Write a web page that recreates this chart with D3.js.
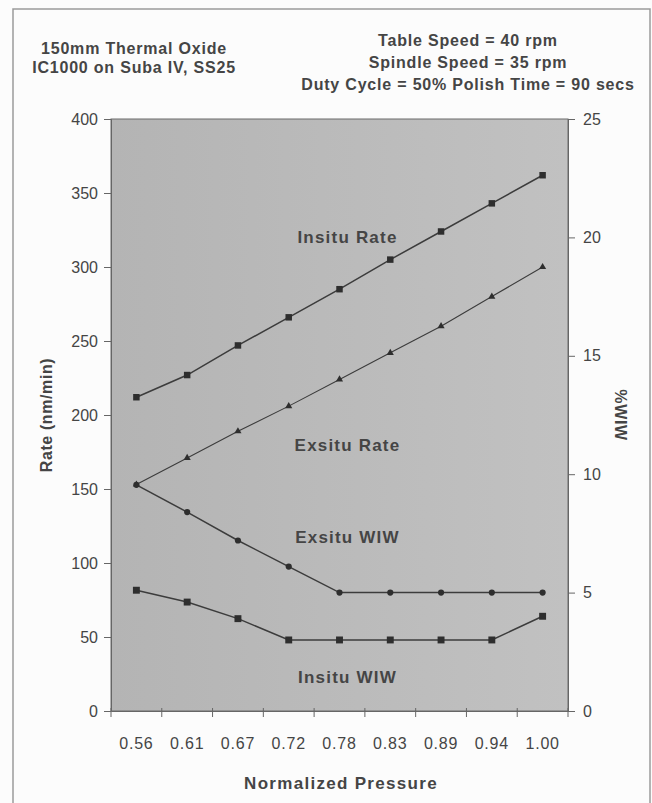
<!DOCTYPE html>
<html>
<head>
<meta charset="utf-8">
<script src="https://cdn.jsdelivr.net/npm/d3@7"></script>
<style>
  body { margin: 0; background: #fcfcfc; }
  svg text { font-family: "Liberation Sans", Arial, sans-serif; fill: #454545; }
</style>
</head>
<body>
<svg id="chart" width="652" height="803"></svg>
<script>
// pressure vs rate / WIW chart

var pressures = ['0.56', '0.61', '0.67', '0.72', '0.78', '0.83', '0.89', '0.94', '1.00'];

var insituRate = [212, 227, 247, 266, 285, 305, 324, 343, 362];
var exsituRate = [153, 171, 189, 206, 224, 242, 260, 280, 300];

var exsituWiw = [9.55, 8.4, 7.2, 6.1, 5.0, 5.0, 5.0, 5.0, 5.0];
var insituWiw = [5.1, 4.6, 3.9, 3.0, 3.0, 3.0, 3.0, 3.0, 4.0];

var rateTicks = [0, 50, 100, 150, 200, 250, 300, 350, 400];
var wiwTicks = [0, 5, 10, 15, 20, 25];

var leftNotes = ['150mm Thermal Oxide', 'IC1000 on Suba IV, SS25'];
var rightNotes = ['Table Speed = 40 rpm', 'Spindle Speed = 35 rpm', 'Duty Cycle = 50% Polish Time = 90 secs'];

var svg = d3.select('#chart');

var plot = {left: 111, right: 568, top: 119, bottom: 711};

var x = d3.scaleBand().domain(pressures).range([plot.left, plot.right]);
var yRate = d3.scaleLinear().domain([0, 400]).range([plot.bottom, plot.top]);
var yWiw = d3.scaleLinear().domain([0, 25]).range([plot.bottom, plot.top]);

function cx(d, i){ return x(pressures[i]) + x.bandwidth()/2; }

// outer frame of the scanned figure
svg.append('path')
  .attr('d', 'M13,810 L13,9 L650,9 L650,810')
  .attr('fill', 'none')
  .attr('stroke', '#9a9a9a')
  .attr('stroke-width', 1.5);

// header notes
svg.selectAll('.lnote').data(leftNotes).enter().append('text')
  .attr('class', 'lnote')
  .attr('x', 134)
  .attr('y', function(d, i){ return 54 + i*19; })
  .attr('text-anchor', 'middle')
  .attr('font-size', 16)
  .attr('letter-spacing', 0.8)
  .attr('font-weight', 'bold')
  .text(function(d){ return d; });

svg.selectAll('.rnote').data(rightNotes).enter().append('text')
  .attr('class', 'rnote')
  .attr('x', 468)
  .attr('y', function(d, i){ return 46 + i*22; })
  .attr('text-anchor', 'middle')
  .attr('font-size', 16)
  .attr('letter-spacing', 0.8)
  .attr('font-weight', 'bold')
  .text(function(d){ return d; });

// plot background
var defs = svg.append('defs');
var grad = defs.append('linearGradient').attr('id', 'bg').attr('x1', 0).attr('x2', 1).attr('y1', 0).attr('y2', 0);
grad.append('stop').attr('offset', '0%').attr('stop-color', '#b4b4b4');
grad.append('stop').attr('offset', '100%').attr('stop-color', '#c1c1c1');

svg.append('rect')
  .attr('x', plot.left)
  .attr('y', plot.top)
  .attr('width', plot.right - plot.left)
  .attr('height', plot.bottom - plot.top)
  .attr('fill', 'url(#bg)')
  .attr('stroke', '#6a6a6a')
  .attr('stroke-width', 1);

// axes
var leftAxis = svg.append('g')
  .attr('transform', 'translate(' + plot.left + ',0)')
  .call(d3.axisLeft(yRate).tickValues(rateTicks).tickSize(7).tickPadding(6));

var rightAxis = svg.append('g')
  .attr('transform', 'translate(' + plot.right + ',0)')
  .call(d3.axisRight(yWiw).tickValues(wiwTicks).tickSize(7).tickPadding(8));

var bottomAxis = svg.append('g')
  .attr('transform', 'translate(0,' + plot.bottom + ')')
  .call(d3.axisBottom(x).tickSize(0).tickPadding(27));

// band boundary ticks on the category axis
var bounds = pressures.map(function(p){ return x(p); }).concat([plot.right]);
svg.selectAll('.xtick').data(bounds).enter().append('line')
  .attr('class', 'xtick')
  .attr('x1', function(d){ return d; })
  .attr('x2', function(d){ return d; })
  .attr('y1', plot.bottom - 3)
  .attr('y2', plot.bottom + 6)
  .attr('stroke', '#666');

[leftAxis, rightAxis, bottomAxis].forEach(function(a){
  a.select('.domain').attr('stroke', '#666');
  a.selectAll('line').attr('stroke', '#666');
  a.selectAll('text')
    .attr('font-size', 16)
    .attr('font-family', '"Liberation Sans", Arial, sans-serif')
    .attr('fill', '#4a4a4a');
});
bottomAxis.selectAll('text').attr('letter-spacing', 0.8);

// axis titles
svg.append('text')
  .attr('transform', 'translate(52,415) rotate(-90)')
  .attr('text-anchor', 'middle')
  .attr('font-size', 16)
  .attr('letter-spacing', 0.6)
  .attr('font-weight', 'bold')
  .text('Rate (nm/min)');

svg.append('text')
  .attr('transform', 'translate(615,415) rotate(90)')
  .attr('text-anchor', 'middle')
  .attr('font-size', 16)
  .attr('letter-spacing', 0.6)
  .attr('font-weight', 'bold')
  .text('%WIW');

svg.append('text')
  .attr('x', 341)
  .attr('y', 789)
  .attr('text-anchor', 'middle')
  .attr('font-size', 17)
  .attr('letter-spacing', 1.3)
  .attr('font-weight', 'bold')
  .text('Normalized Pressure');

// lines
var rateLine = d3.line().x(cx).y(function(d){ return yRate(d); });
var wiwLine = d3.line().x(cx).y(function(d){ return yWiw(d); });

var series = [
  {name: 'Insitu Rate', values: insituRate, line: rateLine, y: yRate, shape: d3.symbolSquare, size: 42, width: 1.5},
  {name: 'Exsitu Rate', values: exsituRate, line: rateLine, y: yRate, shape: d3.symbolTriangle, size: 22, width: 1.1},
  {name: 'Exsitu WIW', values: exsituWiw, line: wiwLine, y: yWiw, shape: d3.symbolCircle, size: 30, width: 1.5},
  {name: 'Insitu WIW', values: insituWiw, line: wiwLine, y: yWiw, shape: d3.symbolSquare, size: 48, width: 1.5}
];

series.forEach(function(s){
  svg.append('path')
    .datum(s.values)
    .attr('d', s.line)
    .attr('fill', 'none')
    .attr('stroke', '#3c3c3c')
    .attr('stroke-width', s.width);

  svg.selectAll(null).data(s.values).enter().append('path')
    .attr('d', d3.symbol().type(s.shape).size(s.size))
    .attr('transform', function(d, i){ return 'translate(' + cx(d, i) + ',' + s.y(d) + ')'; })
    .attr('fill', '#2e2e2e');
});

// series labels
var labels = [
  {text: 'Insitu Rate', y: yRate(320)},
  {text: 'Exsitu Rate', y: yRate(180)},
  {text: 'Exsitu WIW', y: yWiw(7.35)},
  {text: 'Insitu WIW', y: yWiw(1.45)}
];

svg.selectAll('.slabel').data(labels).enter().append('text')
  .attr('class', 'slabel')
  .attr('x', x('0.78') + x.bandwidth()/2 + 8)
  .attr('y', function(d){ return d.y + 6; })
  .attr('text-anchor', 'middle')
  .attr('font-size', 17)
  .attr('letter-spacing', 1.2)
  .attr('font-weight', 'bold')
  .text(function(d){ return d.text; });
</script>
</body>
</html>
